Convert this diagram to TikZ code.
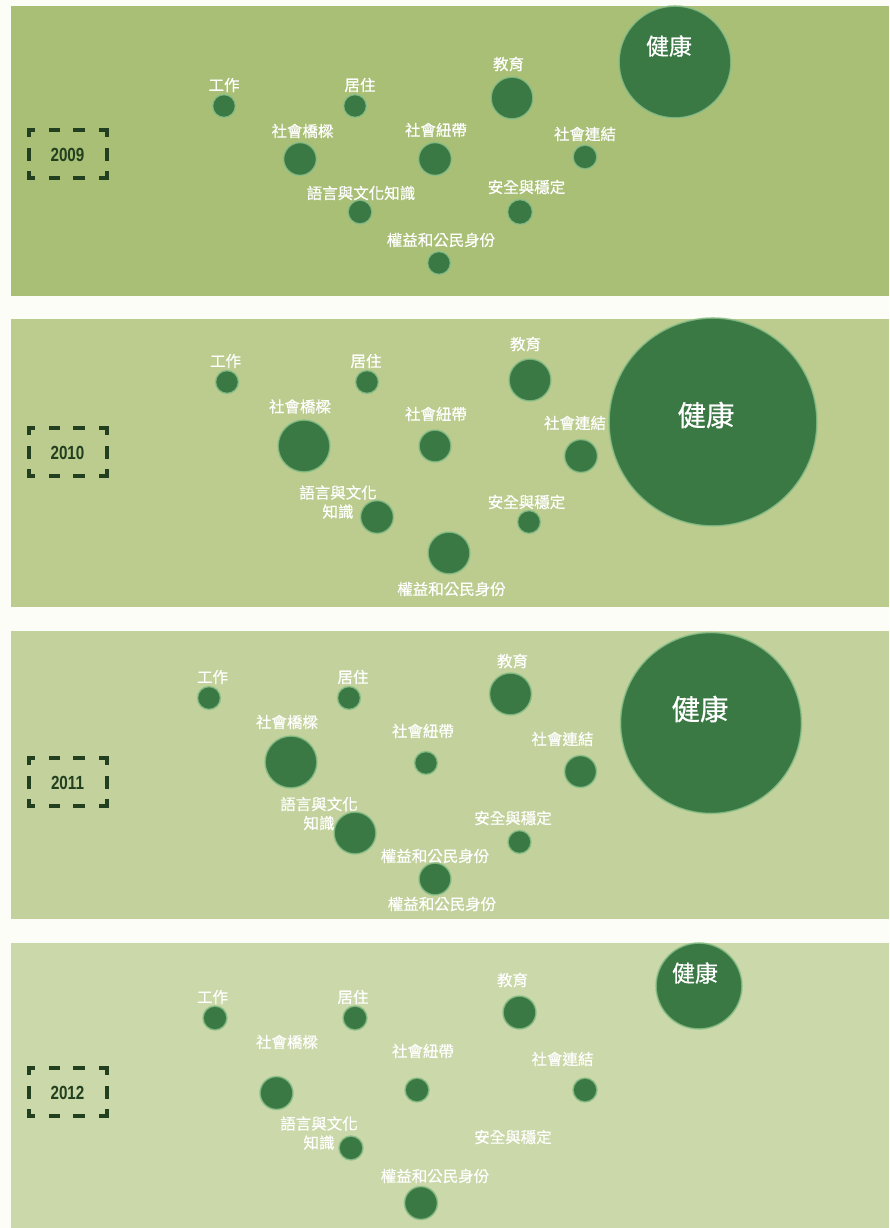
\documentclass[tikz,border=0pt]{standalone}
\usepackage{fontspec}
\newfontfamily\cjk[FakeBold=0.6]{Noto Sans CJK TC}
\newfontfamily\yearfont[FakeStretch=0.8]{Liberation Sans}
\definecolor{pagebg}{HTML}{FCFDF7}
\definecolor{pA}{HTML}{A9BF76}
\definecolor{pB}{HTML}{BBCC8E}
\definecolor{pC}{HTML}{C3D29C}
\definecolor{pD}{HTML}{CBD8A9}
\definecolor{bubc}{HTML}{3A7844}
\definecolor{haloc}{HTML}{8DC18A}
\definecolor{yearc}{HTML}{22401F}
\tikzset{
  panel/.style={fill=#1, draw=none},
  bub/.style={circle, fill=bubc, draw=haloc, draw opacity=0.8, line width=1.6pt, inner sep=0pt, minimum size=#1},
  lab/.style={font=\cjk\fontsize{15.5}{19}\selectfont, text=white, inner sep=0pt, align=center},
  biglab/.style={font=\cjk\fontsize{#1}{#1}\selectfont, text=white, inner sep=0pt},
  yframe/.style={draw=yearc, line width=3.2pt},
  yeartxt/.style={font=\yearfont\bfseries\fontsize{19}{19}\selectfont, text=yearc, inner sep=0pt}
}
\newcommand\yearframe[1]{%
  \begin{scope}[shift={#1}]
    \draw[yframe] (-39,-17) -- (-39,-24) -- (-33,-24);
    \draw[yframe] (-19,-24) -- (-8,-24);
    \draw[yframe] (5,-24) -- (17,-24);
    \draw[yframe] (31,-24) -- (39,-24) -- (39,-17);
    \draw[yframe] (-39,-6) -- (-39,7);
    \draw[yframe] (39,-6) -- (39,7);
    \draw[yframe] (-39,17) -- (-39,24) -- (-33,24);
    \draw[yframe] (-19,24) -- (-8,24);
    \draw[yframe] (5,24) -- (17,24);
    \draw[yframe] (31,24) -- (39,24) -- (39,17);
  \end{scope}}
\begin{document}
\begin{tikzpicture}[x=1pt,y=-1pt]
\useasboundingbox (0,0) rectangle (889,1228);
\fill[pagebg] (0,0) rectangle (889,1228);
% panels
\fill[pA] (11,6) rectangle (889,296);
\fill[pB] (11,319) rectangle (889,607);
\fill[pC] (11,631) rectangle (889,919);
\fill[pD] (11,943) rectangle (889,1228);

% ================= 2009 =================
\yearframe{(68,154)}
\node[yeartxt] (y2009) at (67.5,155) {2009};
\node[bub=23pt] (a-work) at (224,106) {};
\node[bub=23pt] (a-live) at (355,106) {};
\node[bub=33pt] (a-bridge) at (300,159) {};
\node[bub=33pt] (a-bond) at (435,159) {};
\node[bub=24pt] (a-lang) at (360,212) {};
\node[bub=23pt] (a-rights) at (439,263) {};
\node[bub=42pt] (a-edu) at (512,98) {};
\node[bub=24pt] (a-link) at (585,157) {};
\node[bub=25pt] (a-safe) at (520,212) {};
\node[bub=112pt] (a-health) at (675,62) {};
\node[lab] (a-work-l) at (224,85) {工作};
\node[lab] (a-live-l) at (360,85) {居住};
\node[lab] (a-bridge-l) at (302.5,131) {社會橋樑};
\node[lab] (a-bond-l) at (436,130) {社會紐帶};
\node[lab] (a-lang-l) at (361,193) {語言與文化知識};
\node[lab] (a-rights-l) at (441,240) {權益和公民身份};
\node[lab] (a-edu-l) at (508.5,64) {教育};
\node[lab] (a-link-l) at (585,134) {社會連結};
\node[lab] (a-safe-l) at (526.5,187) {安全與穩定};
\node[biglab=23] (a-health-l) at (669,46) {健康};

% ================= 2010 =================
\yearframe{(68,452)}
\node[yeartxt] (y2010) at (67.5,453) {2010};
\node[bub=23pt] (b-work) at (227,382) {};
\node[bub=23pt] (b-live) at (367,382) {};
\node[bub=52pt] (b-bridge) at (304,446) {};
\node[bub=32pt] (b-bond) at (435,446) {};
\node[bub=33pt] (b-lang) at (377,517) {};
\node[bub=42pt] (b-rights) at (449,553) {};
\node[bub=42pt] (b-edu) at (530,380) {};
\node[bub=33pt] (b-link) at (581,456) {};
\node[bub=23pt] (b-safe) at (529,522) {};
\node[bub=208pt] (b-health) at (713,422) {};
\node[lab] (b-work-l) at (225.5,361) {工作};
\node[lab] (b-live-l) at (366,361) {居住};
\node[lab] (b-bridge-l) at (300,406.5) {社會橋樑};
\node[lab] (b-bond-l) at (436,414) {社會紐帶};
\node[lab] (b-lang-l) at (338,502) {語言與文化\\知識};
\node[lab] (b-rights-l) at (451.5,589) {權益和公民身份};
\node[lab] (b-edu-l) at (525.5,344) {教育};
\node[lab] (b-link-l) at (575,423) {社會連結};
\node[lab] (b-safe-l) at (526.5,502) {安全與穩定};
\node[biglab=28.5] (b-health-l) at (706,415) {健康};

% ================= 2011 =================
\yearframe{(68,782)}
\node[yeartxt] (y2011) at (67.5,783) {2011};
\node[bub=23pt] (c-work) at (209,698) {};
\node[bub=23pt] (c-live) at (349,698) {};
\node[bub=52pt] (c-bridge) at (291,762) {};
\node[bub=23pt] (c-bond) at (426,763) {};
\node[bub=42pt] (c-lang) at (355,833) {};
\node[bub=32pt] (c-rights) at (435,879) {};
\node[bub=42pt] (c-edu) at (510.5,694) {};
\node[bub=32pt] (c-link) at (580.5,771.5) {};
\node[bub=23pt] (c-safe) at (519.5,842) {};
\node[bub=181pt] (c-health) at (711,723) {};
\node[lab] (c-work-l) at (212.5,677) {工作};
\node[lab] (c-live-l) at (353,677) {居住};
\node[lab] (c-bridge-l) at (287,722) {社會橋樑};
\node[lab] (c-bond-l) at (423,731) {社會紐帶};
\node[lab] (c-lang-l) at (319,813.5) {語言與文化\\知識};
\node[lab] (c-rights-l) at (435,856) {權益和公民身份};
\node[lab] (c-rights-l2) at (442,904) {權益和公民身份};
\node[lab] (c-edu-l) at (512.5,661) {教育};
\node[lab] (c-link-l) at (562.5,739) {社會連結};
\node[lab] (c-safe-l) at (513,818) {安全與穩定};
\node[biglab=28.5] (c-health-l) at (700,709) {健康};

% ================= 2012 =================
\yearframe{(68,1092)}
\node[yeartxt] (y2012) at (67.5,1093) {2012};
\node[bub=24pt] (d-work) at (215,1018) {};
\node[bub=24pt] (d-live) at (355,1018) {};
\node[bub=33pt] (d-bridge) at (276.5,1093) {};
\node[bub=24pt] (d-bond) at (417,1090) {};
\node[bub=24pt] (d-lang) at (351,1148) {};
\node[bub=33pt] (d-rights) at (421,1203) {};
\node[bub=33pt] (d-edu) at (519.5,1012.5) {};
\node[bub=24pt] (d-link) at (585,1090) {};
\node[bub=86pt] (d-health) at (699,986) {};
\node[lab] (d-work-l) at (212.5,997) {工作};
\node[lab] (d-live-l) at (353,997) {居住};
\node[lab] (d-bridge-l) at (287,1042) {社會橋樑};
\node[lab] (d-bond-l) at (423,1051) {社會紐帶};
\node[lab] (d-lang-l) at (319,1133) {語言與文化\\知識};
\node[lab] (d-rights-l) at (435,1176) {權益和公民身份};
\node[lab] (d-edu-l) at (512.5,980) {教育};
\node[lab] (d-link-l) at (562.5,1059) {社會連結};
\node[lab] (d-safe-l) at (513,1137) {安全與穩定};
\node[biglab=23] (d-health-l) at (695,973) {健康};
\end{tikzpicture}
\end{document}
